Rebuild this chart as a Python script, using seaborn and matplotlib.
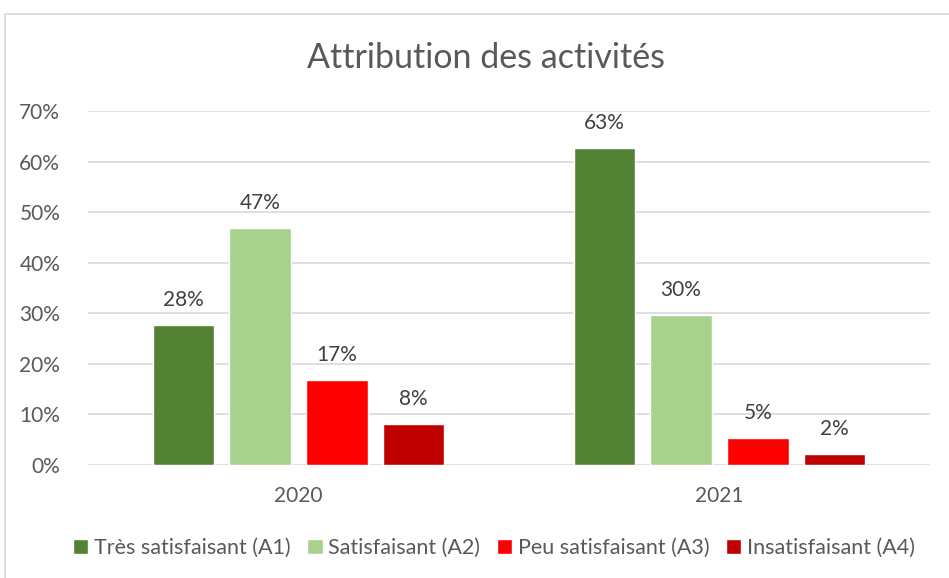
import matplotlib
matplotlib.use("Agg")
import matplotlib.pyplot as plt
import seaborn as sns
import pandas as pd
from matplotlib.patches import Rectangle

years = ["2020", "2021"]
categories = ["Très satisfaisant (A1)", "Satisfaisant (A2)", "Peu satisfaisant (A3)", "Insatisfaisant (A4)"]
values_2020 = [27.7, 46.8, 16.8, 8.1]
values_2021 = [62.6, 29.7, 5.3, 2.2]
yticks = [0, 10, 20, 30, 40, 50, 60, 70]
colors = ["#548235", "#A9D18E", "#FF0000", "#C00000"]

rows = []
for y, vals in zip(years, [values_2020, values_2021]):
    for c, v in zip(categories, vals):
        rows.append({"year": y, "cat": c, "val": v})
df = pd.DataFrame(rows)

sns.set_theme(style="white")
plt.rcParams['font.family'] = ['Lato', 'DejaVu Sans']

fig = plt.figure(figsize=(9.49, 5.78), dpi=100)
W, H = 949, 578
ax = fig.add_axes([88 / W, 1 - 465 / H, (930 - 88) / W, (465 - 111) / H])

sns.barplot(data=df, x="year", y="val", hue="cat", hue_order=categories, order=years,
            palette=colors, width=0.73, gap=0.2, ax=ax, legend=True, saturation=1)

for cont in ax.containers:
    labels = [f"{round(b.get_height()):.0f}%" for b in cont]
    ax.bar_label(cont, labels=labels, padding=11, fontsize=15, color="#404040")

ax.set_ylim(0, 70)
ax.set_xlim(-0.5, 1.5)
ax.set_yticks(yticks)
ax.set_yticklabels([f"{t}%" for t in yticks])
ax.yaxis.grid(True, color="#D9D9D9", linewidth=1.2)
ax.set_axisbelow(True)
for s in ax.spines.values():
    s.set_visible(False)
ax.tick_params(axis="y", length=0, pad=20, labelsize=15, labelcolor="#595959")
ax.tick_params(axis="x", length=0, pad=15, labelsize=15, labelcolor="#595959")
ax.set_xlabel("")
ax.set_ylabel("")

leg = ax.legend(loc="center", bbox_to_anchor=(494 / W, 1 - 548 / H), bbox_transform=fig.transFigure,
                ncol=4, frameon=False, fontsize=15.5, handlelength=0.7, handleheight=0.7,
                handletextpad=0.25, columnspacing=0.8, labelcolor="#595959")

fig.text(486 / W, 1 - 58 / H, "Attribution des activités", ha="center", va="center",
         fontsize=24.5, color="#595959")

fig.patches.append(Rectangle((5 / W, -0.01), 1.0, 1 - 14 / H + 0.01, transform=fig.transFigure,
                             fill=False, edgecolor="#D9D9D9", linewidth=1.2))

fig.savefig("out.png", dpi=100)
